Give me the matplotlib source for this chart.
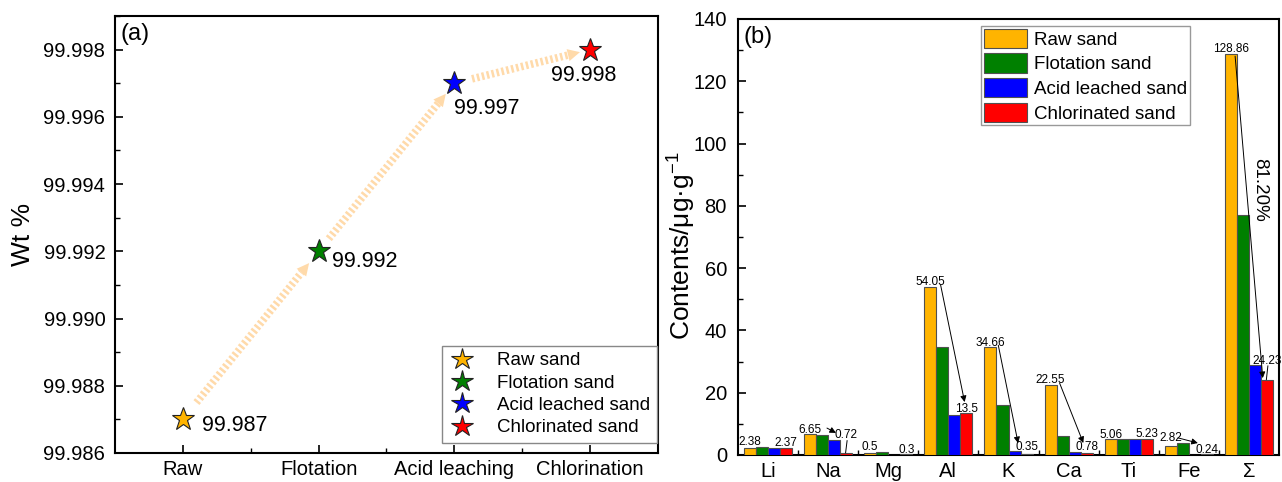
import numpy as np
import matplotlib
matplotlib.use('Agg')
import matplotlib.pyplot as plt
from matplotlib.lines import Line2D
from matplotlib.ticker import MultipleLocator, FixedLocator

plt.rcParams['font.family'] = ['Liberation Sans', 'DejaVu Sans']
plt.rcParams['mathtext.fontset'] = 'custom'
plt.rcParams['mathtext.rm'] = 'Liberation Sans'
plt.rcParams['mathtext.it'] = 'Liberation Sans:italic'

# ---------------- data: panel (a) ----------------
stages = ['Raw', 'Flotation', 'Acid leaching', 'Chlorination']
sample_names = ['Raw sand', 'Flotation sand', 'Acid leached sand', 'Chlorinated sand']
purity = [99.987, 99.992, 99.997, 99.998]
purity_labels = ['99.987', '99.992', '99.997', '99.998']
purity_ticks = [99.986, 99.988, 99.990, 99.992, 99.994, 99.996, 99.998]

# ---------------- data: panel (b) ----------------
elements = ['Li', 'Na', 'Mg', 'Al', 'K', 'Ca', 'Ti', 'Fe', 'Σ']
raw_sand = [2.38, 6.65, 0.5, 54.05, 34.66, 22.55, 5.06, 2.82, 128.86]
flotation_sand = [2.65, 6.4, 1.1, 34.8, 16.2, 6.0, 5.1, 4.0, 77.2]
acid_sand = [2.25, 4.9, 0.15, 13.0, 1.3, 1.0, 5.1, 0.15, 28.9]
chlorinated_sand = [2.37, 0.72, 0.3, 13.5, 0.35, 0.78, 5.23, 0.24, 24.23]
raw_labels = ['2.38', '6.65', '0.5', '54.05', '34.66', '22.55', '5.06', '2.82', '128.86']
chlor_labels = ['2.37', '0.72', '0.3', '13.5', '0.35', '0.78', '5.23', '0.24', '24.23']
reduction_label = '81.20%'

colors = ['#FFB400', '#008000', '#0000FF', '#FF0000']
peach = '#FFDAAA'

fig = plt.figure(figsize=(12.82, 4.82), dpi=100)
axa = fig.add_axes([115 / 1282, 29 / 482, 543 / 1282, 437 / 482])
axb = fig.add_axes([738 / 1282, 27 / 482, 541 / 1282, 436 / 482])

# ================= panel (a) =================
xa = np.arange(len(stages))
axa.set_xlim(-0.5, 3.5)
axa.set_ylim(99.986, 99.999)

handles_a = []
for i in range(len(stages)):
    axa.plot(xa[i], purity[i], marker='*', ms=17, color=colors[i], mec='#222222',
             mew=0.8, ls='none', zorder=5)
    handles_a.append(Line2D([], [], marker='*', ms=16, color=colors[i], mec='#222222',
                            mew=0.8, ls='none', label=sample_names[i]))

label_offsets = [(13.5, -4.5), (9.5, -7.5), (-0.5, -18.5), (-28, -18.5)]
for i in range(len(stages)):
    axa.annotate(purity_labels[i], (xa[i], purity[i]), xytext=label_offsets[i],
                 textcoords='offset points', ha='left', va='center', fontsize=15.5)

# dashed peach arrows between stages
fracs = [(0.10, 0.93), (0.075, 0.937), (0.13, 0.925)]
T = axa.transData
inv = T.inverted()
head_px = 12.0
for i in range(len(stages) - 1):
    p0 = np.array([xa[i], purity[i]])
    p1 = np.array([xa[i + 1], purity[i + 1]])
    s = T.transform(p0 + fracs[i][0] * (p1 - p0))
    e = T.transform(p0 + fracs[i][1] * (p1 - p0))
    d = (e - s) / np.hypot(*(e - s))
    shaft_end = e - d * head_px
    sd = inv.transform(s)
    sed = inv.transform(shaft_end)
    ed = inv.transform(e)
    axa.plot([sd[0], sed[0]], [sd[1], sed[1]], color=peach, lw=5.5,
             dashes=(0.33, 0.33), solid_capstyle='butt', dash_capstyle='butt', zorder=2)
    axa.annotate('', xy=ed, xytext=inv.transform(shaft_end - d * 1.0),
                 arrowprops=dict(arrowstyle='-|>', color=peach, lw=0,
                                 mutation_scale=22, shrinkA=0, shrinkB=0), zorder=2)

axa.xaxis.set_major_locator(FixedLocator(xa))
axa.set_xticklabels(stages)
axa.xaxis.set_minor_locator(FixedLocator(xa[:-1] + 0.5))
axa.yaxis.set_major_locator(FixedLocator(purity_ticks))
axa.set_yticklabels([f'{v:.3f}' for v in purity_ticks])
axa.yaxis.set_minor_locator(MultipleLocator(0.001))
axa.tick_params(which='major', direction='in', length=6, width=1.2, labelsize=14.5)
axa.tick_params(which='minor', direction='in', length=3.5, width=1.0)
axa.tick_params(axis='x', which='major', pad=5)
axa.tick_params(axis='y', which='major', pad=7)
for sp in axa.spines.values():
    sp.set_linewidth(1.5)
axa.set_ylabel('Wt %', fontsize=19)
axa.yaxis.set_label_coords(-0.148, 0.5)
axa.text(0.01, 0.985, '(a)', transform=axa.transAxes, ha='left', va='top', fontsize=17)
leg_a = axa.legend(handles=handles_a, loc='lower right', bbox_to_anchor=(0.998, 0.023),
                   borderaxespad=0, fontsize=13.5, frameon=True, fancybox=False,
                   edgecolor='#888888', framealpha=1, handlelength=1.4,
                   handletextpad=1.2, labelspacing=0.28, borderpad=0.35)
leg_a.get_frame().set_linewidth(1.0)

# ================= panel (b) =================
n = len(elements)
xb = np.arange(n)
w = 0.2
series = [raw_sand, flotation_sand, acid_sand, chlorinated_sand]
for k in range(4):
    axb.bar(xb + (k - 1.5) * w, series[k], w, color=colors[k], edgecolor='#505050',
            linewidth=0.8, label=sample_names[k], zorder=3)

axb.set_xlim(-0.5, n - 0.5)
axb.set_ylim(0, 140)

base_raw = [max(a, b) for a, b in zip(raw_sand, flotation_sand)]
base_chl = [max(a, b) for a, b in zip(chlorinated_sand, acid_sand)]
for i in range(n):
    axb.annotate(raw_labels[i], (xb[i] - 1.5 * w, base_raw[i]), xytext=(0, 1),
                 textcoords='offset points', ha='center', va='baseline', fontsize=8.5, zorder=6)
    axb.annotate(chlor_labels[i], (xb[i] + 1.5 * w, base_chl[i]), xytext=(0, 1),
                 textcoords='offset points', ha='center', va='baseline', fontsize=8.5, zorder=6)

# arrows from raw label to chlorinated value (offsets relative to label anchors)
arrow_offsets = {1: ((0.28, 2.0), (-0.17, 2.2)),
                 3: ((0.17, 0.6), (-0.03, 3.5)),
                 4: ((0.13, 0.6), (-0.14, 2.5)),
                 5: ((0.15, 0.55), (-0.055, 2.85)),
                 7: ((0.12, 1.5), (-0.15, 3.6)),
                 8: ((0.07, -0.8), (-0.07, -4.2))}
for i, (o0, o1) in arrow_offsets.items():
    start = (xb[i] - 1.5 * w + o0[0], base_raw[i] + o0[1])
    end = (xb[i] + 1.5 * w + o1[0], base_chl[i] + o1[1])
    axb.annotate('', xy=end, xytext=start,
                 arrowprops=dict(arrowstyle='-|>', color='black', lw=0.7,
                                 mutation_scale=9, shrinkA=0, shrinkB=0), zorder=7)

# leader lines from raised labels down to the chlorinated bars
for i in [1, 8]:
    axb.plot([xb[i] + 1.5 * w + 0.015, xb[i] + 1.5 * w - 0.01],
             [base_chl[i] - 0.3, chlorinated_sand[i]], color='black', lw=0.7, zorder=7)

axb.text(xb[-1] + 0.17, 85, reduction_label, rotation=-90, ha='center', va='center',
         fontsize=13.5, zorder=7)

axb.xaxis.set_major_locator(FixedLocator(xb))
axb.set_xticklabels(elements)
axb.xaxis.set_minor_locator(FixedLocator(xb[:-1] + 0.5))
axb.yaxis.set_major_locator(MultipleLocator(20))
axb.yaxis.set_minor_locator(MultipleLocator(10))
axb.tick_params(which='major', direction='in', length=6, width=1.2, labelsize=14.5)
axb.tick_params(which='minor', direction='in', length=3.5, width=1.0)
axb.tick_params(axis='x', which='major', length=0, pad=5)
axb.tick_params(axis='y', which='major', pad=8)
for sp in axb.spines.values():
    sp.set_linewidth(1.5)
axb.set_ylabel('Contents/μg·g$^{-1}$', fontsize=19)
axb.yaxis.set_label_coords(-0.074, 0.48)
axb.text(0.01, 0.985, '(b)', transform=axb.transAxes, ha='left', va='top', fontsize=17)
leg_b = axb.legend(loc='upper left', bbox_to_anchor=(0.449, 0.984), borderaxespad=0,
                   fontsize=13.5, frameon=True, fancybox=False, edgecolor='#999999',
                   framealpha=1, handlelength=2.3, handleheight=1.2,
                   handletextpad=0.4, labelspacing=0.25, borderpad=0.15)
leg_b.get_frame().set_linewidth(1.0)

fig.savefig('out.png', dpi=100)
